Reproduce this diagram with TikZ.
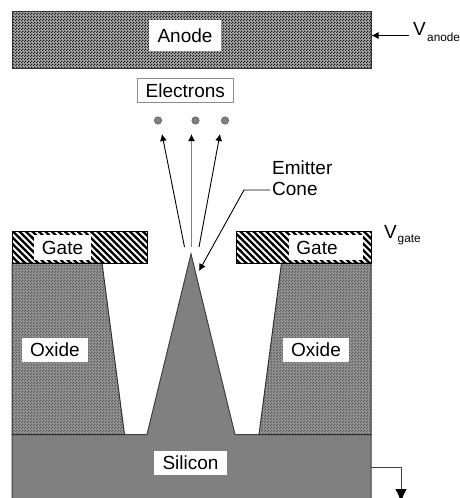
\documentclass[tikz,border=0pt]{standalone}
\usepackage{fontspec}
\setmainfont{Liberation Sans}
\usetikzlibrary{patterns,arrows.meta}
\pgfdeclarepatternformonly{anodefill}{\pgfqpoint{0pt}{0pt}}{\pgfqpoint{3pt}{3pt}}{\pgfqpoint{3pt}{3pt}}{
    \pgfpathrectangle{\pgfqpoint{0pt}{0pt}}{\pgfqpoint{1.5pt}{1.5pt}}
    \pgfpathrectangle{\pgfqpoint{1.5pt}{1.5pt}}{\pgfqpoint{1.5pt}{1.5pt}}
    \pgfusepath{fill}
}
\pgfdeclarepatternformonly{oxidefill}{\pgfqpoint{0pt}{0pt}}{\pgfqpoint{3pt}{3pt}}{\pgfqpoint{3pt}{3pt}}{
    \pgfpathrectangle{\pgfqpoint{0pt}{0pt}}{\pgfqpoint{1.5pt}{1.5pt}}
    \pgfpathrectangle{\pgfqpoint{1.5pt}{1.5pt}}{\pgfqpoint{1.5pt}{1.5pt}}
    \pgfusepath{fill}
}
\pgfdeclarepatternformonly{gatefill}{\pgfqpoint{-1pt}{-1pt}}{\pgfqpoint{7.5pt}{7.5pt}}{\pgfqpoint{6.5pt}{6.5pt}}{
    \pgfsetlinewidth{2.3pt}
    \pgfpathmoveto{\pgfqpoint{-1pt}{7.5pt}}
    \pgfpathlineto{\pgfqpoint{7.5pt}{-1pt}}
    \pgfusepath{stroke}
}
\definecolor{silicongray}{gray}{0.5}
\begin{document}
\begin{tikzpicture}[
        x=1pt, y=-1pt,
        every node/.style={font=\fontsize{19}{21}\selectfont},
        tag/.style={fill=white, inner sep=0pt, align=center},
        anode/.style={draw=black!80, line width=1pt, preaction={fill=black!32}, pattern=anodefill, pattern color=black!90},
        oxide/.style={draw=black!80, line width=1pt, preaction={fill=black!40}, pattern=oxidefill, pattern color=black!65},
        gate/.style={draw=black, line width=1pt, pattern=gatefill},
        silicon/.style={draw=black!75, line width=1pt, fill=silicongray},
        electron/.style={circle, draw=black!70, fill=silicongray, minimum size=7.5pt, inner sep=0pt},
        wire/.style={-{Latex[length=7pt,width=7pt,black]}, line width=0.9pt},
        bigwire/.style={-{Latex[length=13pt,width=11.5pt,black]}, line width=1pt},
        sub/.style={font=\fontsize{11.8}{14}\selectfont}
    ]
        \useasboundingbox (0,0) rectangle (460,498);

        % Silicon with cone
        \path[silicon] (12,500) -- (12,434.5) -- (147,434.5) -- (191,254) -- (235,434.5) -- (371,434.5) -- (371,500);

        % Oxide
        \path[oxide] (12,263) -- (102,263) -- (124.5,434.5) -- (12,434.5) -- cycle;
        \path[oxide] (371,263) -- (281.5,263) -- (259,434.5) -- (371,434.5) -- cycle;

        % Gate and anode
        \path[gate] (12,231.5) rectangle (147,263);
        \path[gate] (236,231.5) rectangle (371,263);
        \path[anode] (12,11) rectangle (371,68);

        % Labels
        \node[tag, minimum width=72pt, minimum height=31pt] (anodelabel) at (185,35.5) {Anode};
        \node[tag, draw=black!45, line width=0.8pt, minimum width=96pt, minimum height=24pt] (electronlabel) at (185.3,90.7) {Electrons};
        \node[tag, minimum width=57pt, minimum height=25pt] (gateL) at (62.5,247.5) {Gate};
        \node[tag, minimum width=74pt, minimum height=25pt] (gateR) at (326,247.5) {\hspace*{-18pt}Gate};
        \node[tag, minimum width=66pt, minimum height=24pt] (oxideL) at (55,350) {Oxide};
        \node[tag, minimum width=66pt, minimum height=24pt] (oxideR) at (316,350) {Oxide};
        \node[tag, minimum width=73pt, minimum height=24pt] (siliconlabel) at (190.5,463) {Silicon};
        \node[align=left, inner sep=0pt, anchor=west] (emitter) at (272,178) {Emitter\\Cone};

        % Voltage labels
        \node[inner sep=0pt, anchor=west] (vanode) at (413,28.5) {V};
        \node[sub, inner sep=0pt, anchor=west] (subanode) at (427,37) {anode};
        \node[inner sep=0pt, anchor=west] (vgate) at (384,231.5) {V};
        \node[sub, inner sep=0pt, anchor=west] (subgate) at (397.5,240) {gate};

        % Electrons
        \node[electron] (e1) at (158,120.5) {};
        \node[electron] (e2) at (195.5,120.5) {};
        \node[electron] (e3) at (225,120.5) {};

        % Arrows
        \coordinate (a1) at (184.5,247);
        \coordinate (a2) at (191.5,247);
        \coordinate (a3) at (199,247);
        \coordinate (b1) at (162,134);
        \coordinate (b2) at (191.5,134);
        \coordinate (b3) at (220,134);
        \draw[wire] (a1) -- (b1);
        \draw[wire, draw=black!50, line width=1.3pt] (a2) -- (b2);
        \draw[wire] (a3) -- (b3);

        \coordinate (leaderA) at (270,190);
        \coordinate (leaderB) at (244,190);
        \coordinate (leaderC) at (199,271);
        \draw[wire] (leaderA) -- (leaderB) -- (leaderC);

        \coordinate (vanodeend) at (409,35.5);
        \coordinate (anodeedge) at (371.5,35.5);
        \draw[wire] (vanodeend) -- (anodeedge);

        \coordinate (sia) at (371,467);
        \coordinate (sib) at (401,467);
        \coordinate (sic) at (401,502);
        \draw[bigwire, draw=black!75] (sia) -- (sib) -- (sic);
\end{tikzpicture}
\end{document}
